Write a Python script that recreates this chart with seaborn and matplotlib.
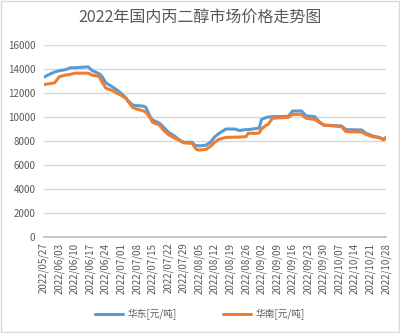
import matplotlib
matplotlib.use("Agg")
import matplotlib.pyplot as plt
import matplotlib.dates as mdates
import seaborn as sns
import pandas as pd
import numpy as np

dates = ["2022-05-27","2022-05-29","2022-06-01","2022-06-03","2022-06-06","2022-06-08",
         "2022-06-10","2022-06-14","2022-06-16","2022-06-18","2022-06-21","2022-06-22",
         "2022-06-24","2022-06-27","2022-06-29","2022-07-01","2022-07-03","2022-07-04",
         "2022-07-06","2022-07-08","2022-07-11","2022-07-12","2022-07-14","2022-07-15",
         "2022-07-18","2022-07-20","2022-07-22","2022-07-25","2022-07-27","2022-07-29",
         "2022-08-02","2022-08-03","2022-08-04","2022-08-05","2022-08-08","2022-08-10",
         "2022-08-12","2022-08-14","2022-08-17","2022-08-21","2022-08-23","2022-08-26",
         "2022-08-27","2022-08-31","2022-09-01","2022-09-02","2022-09-04","2022-09-05",
         "2022-09-07","2022-09-14","2022-09-16","2022-09-20","2022-09-22","2022-09-26",
         "2022-09-28","2022-09-30","2022-10-08","2022-10-10","2022-10-17","2022-10-19",
         "2022-10-22","2022-10-25","2022-10-27","2022-10-28"]

east = [13300,13500,13750,13850,13950,14100,
        14100,14150,14180,13850,13600,13450,
        12850,12500,12250,11950,11600,11350,
        11000,10950,10900,10800,10000,9750,
        9500,9150,8750,8400,8100,7900,
        7880,7650,7620,7600,7650,7900,
        8350,8650,9000,9000,8880,8950,
        8950,9050,9100,9800,9950,10000,
        10030,10050,10500,10500,10100,10030,
        9600,9330,9250,8950,8920,8650,
        8420,8300,8140,8300]

south = [12700,12750,12850,13350,13500,13550,
         13650,13650,13650,13480,13380,13000,
         12400,12200,11980,11800,11550,11300,
         10800,10650,10500,10400,9900,9550,
         9350,8900,8550,8250,8050,7850,
         7800,7450,7280,7250,7300,7550,
         7900,8150,8300,8320,8330,8360,
         8640,8640,8700,9000,9300,9400,
         9900,9970,10220,10220,9900,9800,
         9550,9330,9200,8780,8750,8550,
         8360,8280,8080,8280]

series_names = ["华东[元/吨]", "华南[元/吨]"]
colors = ["#5B9BD5", "#ED7D31"]
title = "2022年国内丙二醇市场价格走势图"
y_ticks = [0, 2000, 4000, 6000, 8000, 10000, 12000, 14000, 16000]

df = pd.DataFrame({
    "date": pd.to_datetime(dates * 2),
    "price": east + south,
    "series": [series_names[0]] * len(dates) + [series_names[1]] * len(dates),
})

sns.set_theme(style="white")
plt.rcParams["font.family"] = ["Noto Sans CJK SC", "DejaVu Sans"]

fig = plt.figure(figsize=(4.0, 3.33), dpi=100)
ax = fig.add_axes([0.109, 0.288, 0.856, 0.577])

sns.lineplot(data=df, x="date", y="price", hue="series", palette=colors,
             linewidth=2.2, ax=ax, legend=True)

start = pd.Timestamp("2022-05-27")
end = pd.Timestamp("2022-10-28")
ax.set_xlim(start, end)
ax.set_ylim(0, 16000)
ax.set_yticks(y_ticks)
ax.set_yticklabels([str(v) for v in y_ticks], fontsize=7, color="#595959")
xt = pd.date_range(start, end, freq="7D")
ax.set_xticks(xt)
ax.set_xticklabels([d.strftime("%Y/%m/%d") for d in xt], rotation=90,
                   fontsize=7, color="#595959")
ax.grid(axis="y", color="#d9d9d9", linewidth=1)
ax.set_axisbelow(True)
for s in ["top", "right", "left"]:
    ax.spines[s].set_visible(False)
ax.spines["bottom"].set_color("#bfbfbf")
ax.tick_params(axis="x", length=3, color="#bfbfbf", pad=1)
ax.tick_params(axis="y", length=0, pad=6)
ax.set_xlabel("")
ax.set_ylabel("")

leg = ax.legend(loc="center", bbox_to_anchor=(0.5, 0.055), bbox_transform=fig.transFigure,
                ncol=2, frameon=False, fontsize=7, handlelength=2.8, handletextpad=0.5,
                columnspacing=4.8)
for t in leg.get_texts():
    t.set_color("#595959")
for l in leg.get_lines():
    l.set_linewidth(2.2)

fig.text(0.5, 0.945, title, ha="center", va="center", fontsize=11.5, color="#595959")

fig.patches.append(plt.Rectangle((0.002, 0.002), 0.996, 0.996, transform=fig.transFigure,
                                 fill=False, edgecolor="#d9d9d9", linewidth=1))

fig.savefig("out.png", dpi=100)
